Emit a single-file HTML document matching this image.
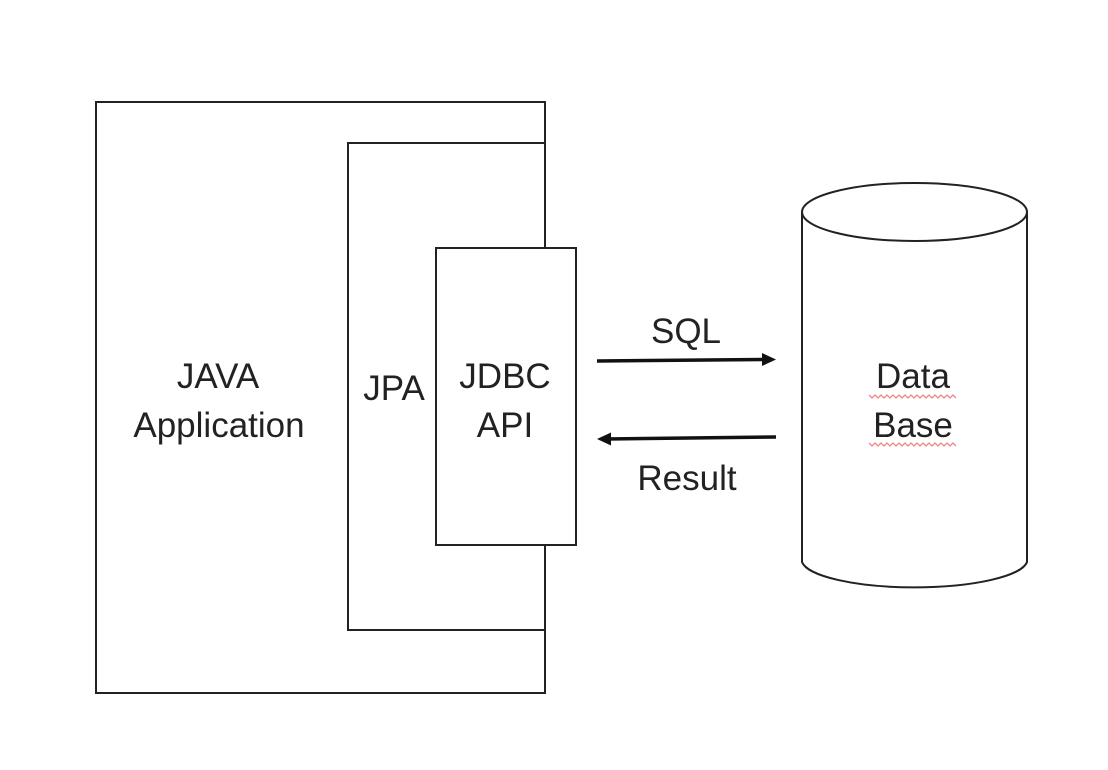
<!DOCTYPE html>
<html><head><meta charset="utf-8"><style>
html,body{margin:0;padding:0;background:#fff;}
svg{display:block;}
text{font-family:"Liberation Sans",sans-serif;font-size:35px;fill:#222;}
</style></head><body>
<svg width="1108" height="770" viewBox="0 0 1108 770">
<g fill="none" stroke="#222" stroke-width="2">
<rect x="96" y="102" width="449" height="591" fill="#fff"/>
<path d="M545 143 H348 V630 H545"/>
<rect x="436" y="248" width="140" height="297" fill="#fff"/>
<path d="M802 212 V562 A113 28 0 0 0 1027 562 V212"/>
<ellipse cx="914.5" cy="212" rx="112.5" ry="29"/>
</g>
<g stroke="#111" stroke-width="3.5" fill="#111">
<line x1="597" y1="361" x2="766" y2="359.5"/>
<line x1="776" y1="437" x2="606" y2="439"/>
</g>
<polygon points="776,359.5 762,353 762,366" fill="#111"/>
<polygon points="597,439 611,432.5 611,445.5" fill="#111"/>
<g text-anchor="middle">
<text x="218" y="388">JAVA</text>
<text x="219" y="437">Application</text>
<text x="394" y="400">JPA</text>
<text x="505" y="388">JDBC</text>
<text x="505" y="437">API</text>
<text x="686" y="343">SQL</text>
<text x="687" y="490">Result</text>
<text x="913" y="388">Data</text>
<text x="913" y="437">Base</text>
</g>
<g fill="none" stroke="#e88" stroke-width="1.3">
<path d="M869 395 l3 3 l3 -3 l3 3 l3 -3 l3 3 l3 -3 l3 3 l3 -3 l3 3 l3 -3 l3 3 l3 -3 l3 3 l3 -3 l3 3 l3 -3 l3 3 l3 -3 l3 3 l3 -3 l3 3 l3 -3 l3 3 l3 -3 l3 3 l3 -3 l3 3 l3 -3 l3 3"/>
<path d="M869 443 l3 3 l3 -3 l3 3 l3 -3 l3 3 l3 -3 l3 3 l3 -3 l3 3 l3 -3 l3 3 l3 -3 l3 3 l3 -3 l3 3 l3 -3 l3 3 l3 -3 l3 3 l3 -3 l3 3 l3 -3 l3 3 l3 -3 l3 3 l3 -3 l3 3 l3 -3 l3 3"/>
</g>
</svg>
</body></html>
